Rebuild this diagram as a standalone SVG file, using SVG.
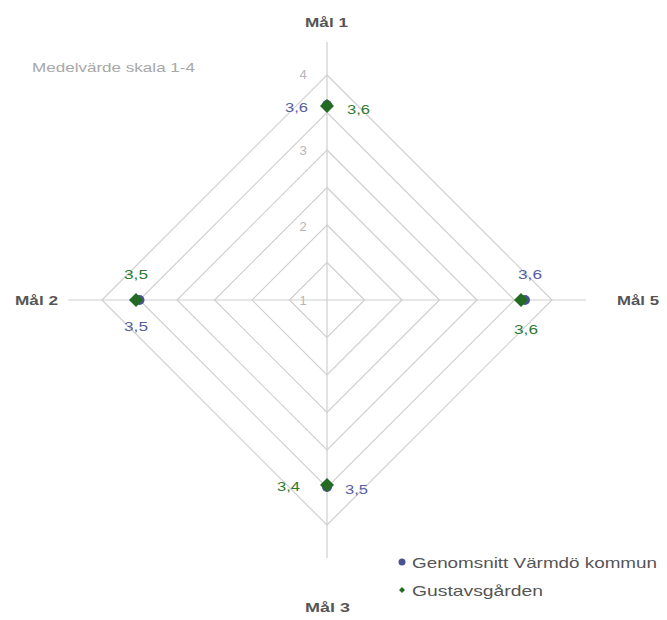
<svg xmlns="http://www.w3.org/2000/svg" width="667" height="620" viewBox="0 0 667 620">
  <style>
    .grid { fill: none; stroke: #cfcfcf; stroke-width: 1.2; }
    .axis { stroke: #cfcfcf; stroke-width: 1.2; }
    .tick { font-family: "Liberation Sans", Arial, sans-serif; font-size: 13px; fill: #b5b5b5; text-anchor: middle; }
    .goal { font-family: "Liberation Sans", Arial, sans-serif; font-size: 13px; font-weight: bold; fill: #555; }
    .note { font-family: "Liberation Sans", Arial, sans-serif; font-size: 13px; fill: #a8a8a8; }
    .vb { font-family: "Liberation Sans", Arial, sans-serif; font-size: 13px; fill: #5560a0; }
    .vg { font-family: "Liberation Sans", Arial, sans-serif; font-size: 13px; fill: #2f7a2f; }
    .legend { font-family: "Liberation Sans", Arial, sans-serif; font-size: 15px; fill: #555; }
    .avg { fill: #4a5290; }
    .site { fill: #236b23; }
  </style>
  <defs>
    <path id="dia" d="M0,-7 L7,0 L0,7 L-7,0 Z"/>
  </defs>

  <rect width="667" height="620" fill="#fff"/>

  <!-- grid rings, radius 37.5 per half step, centre (327,300) -->
  <g id="grid">
    <path class="grid" d="M327,262.5 L364.5,300 L327,337.5 L289.5,300 Z"/>
    <path class="grid" d="M327,225 L402,300 L327,375 L252,300 Z"/>
    <path class="grid" d="M327,187.5 L439.5,300 L327,412.5 L214.5,300 Z"/>
    <path class="grid" d="M327,150 L477,300 L327,450 L177,300 Z"/>
    <path class="grid" d="M327,112.5 L514.5,300 L327,487.5 L139.5,300 Z"/>
    <path class="grid" d="M327,75 L552,300 L327,525 L102,300 Z"/>
    <line class="axis" x1="327" y1="42" x2="327" y2="558"/>
    <line class="axis" x1="68" y1="300" x2="586" y2="300"/>
  </g>

  <!-- scale labels -->
  <g id="scale">
    <text class="tick" x="303" y="79">4</text>
    <text class="tick" x="303" y="155">3</text>
    <text class="tick" x="303" y="231">2</text>
    <text class="tick" x="303" y="305">1</text>
  </g>

  <text class="note" x="32" y="72" textLength="163" lengthAdjust="spacingAndGlyphs">Medelvärde skala 1-4</text>

  <!-- axis titles -->
  <g id="goal1"><text class="goal" x="305" y="27" textLength="43" lengthAdjust="spacingAndGlyphs">Mål 1</text></g>
  <g id="goal2"><text class="goal" x="15" y="305" textLength="43" lengthAdjust="spacingAndGlyphs">Mål 2</text></g>
  <g id="goal5"><text class="goal" x="617" y="305" textLength="42" lengthAdjust="spacingAndGlyphs">Mål 5</text></g>
  <g id="goal3"><text class="goal" x="305" y="612" textLength="45" lengthAdjust="spacingAndGlyphs">Mål 3</text></g>

  <!-- series: kommun average -->
  <g id="series-avg">
    <circle class="avg" cx="327" cy="105" r="5"/>
    <circle class="avg" cx="139.5" cy="300" r="5"/>
    <circle class="avg" cx="525" cy="300" r="5"/>
    <circle class="avg" cx="327" cy="487" r="5"/>
  </g>

  <!-- series: Gustavsgården -->
  <g id="series-site">
    <use href="#dia" class="site" x="327" y="106"/>
    <use href="#dia" class="site" x="136" y="300"/>
    <use href="#dia" class="site" x="521" y="300"/>
    <use href="#dia" class="site" x="327" y="485"/>
  </g>

  <!-- value labels -->
  <g id="values">
    <text class="vb" x="285" y="112" textLength="23" lengthAdjust="spacingAndGlyphs">3,6</text>
    <text class="vg" x="347" y="114" textLength="23" lengthAdjust="spacingAndGlyphs">3,6</text>
    <text class="vg" x="124" y="279" textLength="24" lengthAdjust="spacingAndGlyphs">3,5</text>
    <text class="vb" x="124" y="331" textLength="24" lengthAdjust="spacingAndGlyphs">3,5</text>
    <text class="vb" x="518" y="279" textLength="24" lengthAdjust="spacingAndGlyphs">3,6</text>
    <text class="vg" x="514" y="334" textLength="24" lengthAdjust="spacingAndGlyphs">3,6</text>
    <text class="vg" x="277" y="491" textLength="23" lengthAdjust="spacingAndGlyphs">3,4</text>
    <text class="vb" x="345" y="494" textLength="23" lengthAdjust="spacingAndGlyphs">3,5</text>
  </g>

  <!-- legend -->
  <g id="legend">
    <circle class="avg" cx="402" cy="562" r="3.5"/>
    <text class="legend" x="412" y="568" textLength="245" lengthAdjust="spacingAndGlyphs">Genomsnitt Värmdö kommun</text>
    <path class="site" d="M402,587 L405,590 L402,593 L399,590 Z"/>
    <text class="legend" x="412" y="596" textLength="131" lengthAdjust="spacingAndGlyphs">Gustavsgården</text>
  </g>
</svg>
